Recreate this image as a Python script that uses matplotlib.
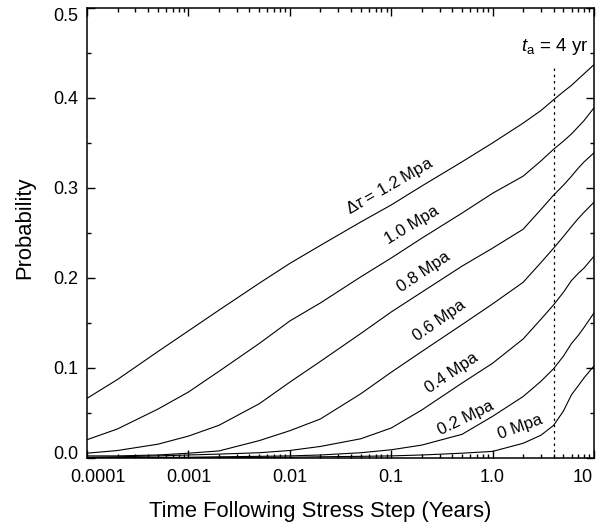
import matplotlib
matplotlib.use('Agg')
import matplotlib.pyplot as plt
import matplotlib.ticker as mticker
import matplotlib.transforms as mtransforms

plt.rcParams['font.family'] = ['Liberation Sans', 'DejaVu Sans']
plt.rcParams['mathtext.fontset'] = 'custom'
plt.rcParams['mathtext.rm'] = 'Liberation Sans'
plt.rcParams['mathtext.it'] = 'Liberation Sans:italic'
plt.rcParams['mathtext.bf'] = 'Liberation Sans:bold'

# time after stress step (years)
t = [1e-4, 2e-4, 5e-4, 1e-3, 2e-3, 5e-3, 0.01, 0.02, 0.05, 0.1, 0.2, 0.5,
     1.0, 2.0, 3.0, 4.0, 5.0, 6.0, 7.0, 8.0, 10.0]

# probability for each stress step
p12 = [0.066, 0.087, 0.118, 0.141, 0.164, 0.194, 0.216, 0.236, 0.262, 0.281, 0.302, 0.329,
       0.350, 0.372, 0.386, 0.398, 0.407, 0.414, 0.421, 0.427, 0.437]
p10 = [0.020, 0.032, 0.054, 0.073, 0.096, 0.127, 0.152, 0.172, 0.201, 0.222, 0.244, 0.272,
       0.294, 0.313, 0.330, 0.343, 0.352, 0.360, 0.368, 0.375, 0.389]
p08 = [0.005, 0.008, 0.015, 0.024, 0.036, 0.060, 0.084, 0.107, 0.138, 0.162, 0.184, 0.213,
       0.233, 0.254, 0.276, 0.292, 0.303, 0.313, 0.322, 0.329, 0.339]
p06 = [0.002, 0.002, 0.003, 0.005, 0.0075, 0.019, 0.030, 0.043, 0.071, 0.095, 0.118, 0.148,
       0.171, 0.195, 0.217, 0.233, 0.246, 0.257, 0.266, 0.273, 0.284]
p04 = [0.0005, 0.001, 0.002, 0.003, 0.004, 0.0055, 0.008, 0.0125, 0.021, 0.033, 0.053, 0.083,
       0.105, 0.132, 0.154, 0.170, 0.184, 0.197, 0.205, 0.211, 0.224]
p02 = [0.0, 0.0, 0.0003, 0.0005, 0.001, 0.0015, 0.002, 0.003, 0.0055, 0.0088, 0.014, 0.026,
       0.046, 0.068, 0.085, 0.099, 0.113, 0.127, 0.136, 0.145, 0.161]
p00 = [0.0, 0.0, 0.0, 0.0, 0.0, 0.0003, 0.0005, 0.001, 0.0015, 0.002, 0.003, 0.005,
       0.007, 0.016, 0.025, 0.036, 0.052, 0.070, 0.080, 0.089, 0.102]

curves = [p12, p10, p08, p06, p04, p02, p00]
labels = [r'$\Delta\tau$ = 1.2 Mpa', '1.0 Mpa', '0.8 Mpa', '0.6 Mpa', '0.4 Mpa', '0.2 Mpa', '0 Mpa']
# label anchor (time, probability) and angle
label_t = [0.097, 0.160, 0.21, 0.296, 0.398, 0.547, 1.86]
label_p = [0.302, 0.259, 0.206, 0.152, 0.094, 0.044, 0.034]
label_rot = [30, 31, 34, 35, 34, 26, 20]

t_a = 4.0

xticks = [1e-4, 1e-3, 1e-2, 0.1, 1.0, 10.0]
xticklabels = ['0.0001', '0.001', '0.01', '0.1', '1.0', '10']
yticks = [0.0, 0.1, 0.2, 0.3, 0.4, 0.5]

fig = plt.figure(figsize=(6.06, 5.29), dpi=100)
ax = fig.add_axes([0.1436, 0.1348, 0.8366, 0.8501])

for p in curves:
    ax.plot(t, p, color='black', lw=0.8)

for lab, lt, lp, rot in zip(labels, label_t, label_p, label_rot):
    ax.text(lt, lp, lab, rotation=rot, ha='center', va='center', fontsize=12)

ax.vlines(t_a, 0, 0.437, colors='black', lw=0.9, linestyles=(0, (2, 3)))
ax.text(8.7, 0.457, r'$t_\mathrm{a}$ = 4 yr', ha='right', va='center', fontsize=13.5)

ax.set_xscale('log')
ax.set_xlim(1e-4, 10)
ax.set_ylim(0, 0.5)
ax.set_xticks(xticks)
ax.set_xticklabels(xticklabels)
ax.xaxis.set_minor_locator(mticker.LogLocator(base=10, subs=range(2, 10)))
ax.xaxis.set_minor_formatter(mticker.NullFormatter())
ax.set_yticks(yticks)
ax.set_yticklabels(['%.1f' % v for v in yticks])
ax.yaxis.set_minor_locator(mticker.MultipleLocator(0.05))

ax.tick_params(which='both', direction='in', top=True, right=True, labelsize=13, width=1)
ax.tick_params(which='major', length=5.5)
ax.tick_params(which='minor', length=3)
ax.tick_params(axis='x', pad=8)
ax.tick_params(axis='y', pad=6)
for s in ax.spines.values():
    s.set_linewidth(1.1)

ax.set_xlabel('Time Following Stress Step (Years)', fontsize=15.8)
ax.set_ylabel('Probability', fontsize=15.8)
ax.xaxis.set_label_coords(0.46, -0.12)
ax.xaxis.label.set_va('center')
ax.yaxis.set_label_coords(-0.122, 0.511)
ax.yaxis.label.set_va('center')

# nudge the end tick labels inward like the original
xl = ax.get_xticklabels()
xl[0].set_transform(xl[0].get_transform() + mtransforms.ScaledTranslation(11 / 100, 0, fig.dpi_scale_trans))
xl[-1].set_transform(xl[-1].get_transform() + mtransforms.ScaledTranslation(-11 / 100, 0, fig.dpi_scale_trans))
yl = ax.get_yticklabels()
yl[0].set_transform(yl[0].get_transform() + mtransforms.ScaledTranslation(0, 5 / 100, fig.dpi_scale_trans))
yl[-1].set_transform(yl[-1].get_transform() + mtransforms.ScaledTranslation(0, -7 / 100, fig.dpi_scale_trans))

fig.savefig('out.png', dpi=100)
